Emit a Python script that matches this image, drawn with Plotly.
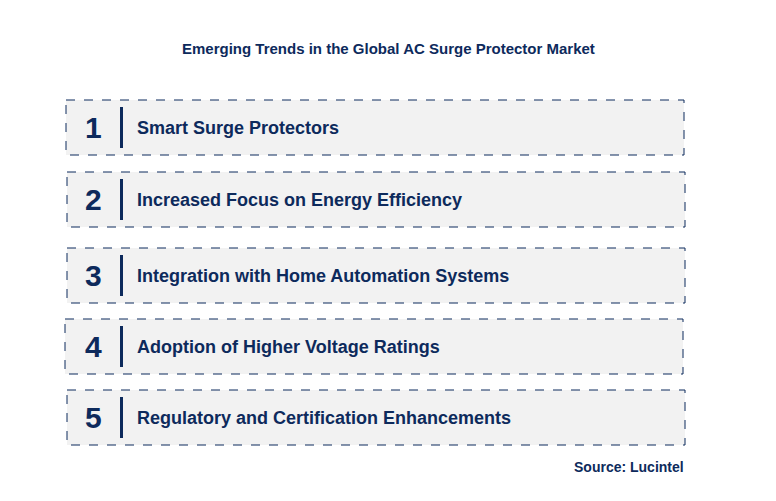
import plotly.graph_objects as go

title = "Emerging Trends in the Global AC Surge Protector Market"
numbers = ["1", "2", "3", "4", "5"]
trends = [
    "Smart Surge Protectors",
    "Increased Focus on Energy Efficiency",
    "Integration with Home Automation Systems",
    "Adoption of Higher Voltage Ratings",
    "Regulatory and Certification Enhancements",
]
source = "Source: Lucintel"

navy = "#0d2a5c"
box_tops = [100, 172, 248, 319, 390]
box_lefts = [66, 67, 67, 65, 67]
box_h = 55
box_w = 618

fig = go.Figure()
shapes = []
annotations = []
for i in range(len(trends)):
    y0 = box_tops[i]
    x0 = box_lefts[i]
    shapes.append(dict(type="rect", x0=x0, x1=x0 + box_w, y0=y0, y1=y0 + box_h,
                       fillcolor="#f2f2f2", line=dict(color=navy, width=1, dash="dash")))
    shapes.append(dict(type="rect", x0=120, x1=123, y0=y0 + 7, y1=y0 + box_h - 7,
                       fillcolor=navy, line=dict(width=0)))
    annotations.append(dict(x=93, y=y0 + box_h / 2, text="<b>" + numbers[i] + "</b>",
                            showarrow=False, font=dict(size=30, color=navy, family="Arial")))
    annotations.append(dict(x=135, y=y0 + box_h / 2, text="<b>" + trends[i] + "</b>",
                            xanchor="left", showarrow=False,
                            font=dict(size=18, color=navy, family="Arial")))

annotations.append(dict(x=388, y=48, text="<b>" + title + "</b>", showarrow=False,
                        font=dict(size=15, color=navy, family="Arial")))
annotations.append(dict(x=686, y=467, text="<b>" + source + "</b>", xanchor="right",
                        showarrow=False, font=dict(size=14, color=navy, family="Arial")))

# page body margin shifts the figure by ~8px, so offset the ranges
fig.update_layout(
    width=776, height=501, margin=dict(l=0, r=0, t=0, b=0),
    plot_bgcolor="white", paper_bgcolor="white",
    xaxis=dict(range=[8, 784], visible=False, fixedrange=True),
    yaxis=dict(range=[509, 8], visible=False, fixedrange=True),
    shapes=shapes, annotations=annotations, showlegend=False,
)
fig.write_html("out.html")
